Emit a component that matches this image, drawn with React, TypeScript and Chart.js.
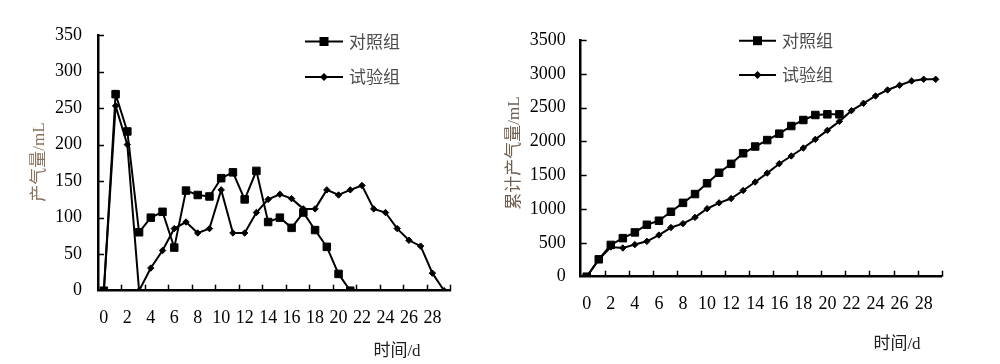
import React, { useEffect, useRef } from 'react';
import { Chart, registerables } from 'chart.js';

Chart.register(...registerables);

const dayLabels = ['0','1','2','3','4','5','6','7','8','9','10','11','12','13','14','15','16','17','18','19','20','21','22','23','24','25','26','27','28','29'];
const seriesNames = ['对照组', '试验组'];
const dailyControl = [0,269,218,80,100,108,59,137,131,129,154,162,125,164,94,100,86,107,83,60,23,0];
const dailyTrial = [0,253,200,0,31,55,85,94,79,85,138,79,79,107,125,132,126,112,112,138,131,138,144,112,107,85,69,61,24,0];
const cumControl = [0,257,470,570,655,768,828,960,1092,1222,1382,1537,1669,1825,1925,2020,2115,2228,2317,2391,2401,2401];
const cumTrial = [0,253,440,425,475,523,616,727,785,877,1005,1092,1156,1275,1400,1532,1671,1785,1903,2031,2164,2297,2455,2564,2672,2761,2830,2894,2919,2919];
const dailyMax = 350;
const dailyStep = 50;
const cumMax = 3500;
const cumStep = 500;
const yTitleDaily = '产气量/mL';
const yTitleCum = '累计产气量/mL';
const xTitle = '时间/d';

const SERIF = "'Liberation Serif', 'Times New Roman', 'Noto Sans CJK SC', serif";

const extrasPlugin = {
  id: 'extras',
  afterDraw(chart: any, _args: any, opts: any) {
    const { ctx, chartArea: a } = chart;
    const x = chart.scales.x;
    const y = chart.scales.y;
    ctx.save();
    ctx.strokeStyle = '#000';
    ctx.lineWidth = 1.5;
    // inward y ticks
    y.ticks.forEach((t: any) => {
      if (t.value === 0) return;
      const py = Math.round(y.getPixelForValue(t.value)) + 0.5;
      ctx.beginPath();
      ctx.moveTo(a.left, py);
      ctx.lineTo(a.left + 6, py);
      ctx.stroke();
    });
    // inward x ticks every 2 categories
    const c0 = x.getPixelForValue(0);
    const catW = x.getPixelForValue(1) - c0;
    for (let k = 2; k <= dayLabels.length; k += 2) {
      const px = Math.round(c0 - catW / 2 + k * catW) + 0.5;
      ctx.beginPath();
      ctx.moveTo(px, a.bottom);
      ctx.lineTo(px, a.bottom - 6);
      ctx.stroke();
    }
    // legend
    const lg = opts.legend;
    chart.data.datasets.forEach((ds: any, i: number) => {
      const ly = lg.ys[i];
      ctx.strokeStyle = '#000';
      ctx.lineWidth = 2;
      ctx.beginPath();
      ctx.moveTo(lg.x1, ly);
      ctx.lineTo(lg.x2, ly);
      ctx.stroke();
      const cx = (lg.x1 + lg.x2) / 2;
      ctx.fillStyle = '#000';
      if (ds.pointStyle === 'rect') {
        ctx.fillRect(cx - 4.5, ly - 4.5, 9, 9);
      } else {
        ctx.beginPath();
        ctx.moveTo(cx - 4, ly);
        ctx.lineTo(cx, ly - 4);
        ctx.lineTo(cx + 4, ly);
        ctx.lineTo(cx, ly + 4);
        ctx.closePath();
        ctx.fill();
      }
      ctx.fillStyle = '#4d4d4d';
      ctx.font = "17px 'Noto Sans CJK SC', sans-serif";
      ctx.textAlign = 'left';
      ctx.textBaseline = 'middle';
      ctx.fillText(ds.label, lg.textX, ly);
    });
    // y title (rotated)
    ctx.save();
    ctx.translate(opts.yTitle.x, opts.yTitle.y);
    ctx.rotate(-Math.PI / 2);
    ctx.fillStyle = opts.yTitle.color;
    ctx.font = '17px ' + SERIF;
    ctx.textAlign = 'center';
    ctx.textBaseline = 'middle';
    ctx.fillText(opts.yTitle.text, 0, 0);
    ctx.restore();
    // x title
    ctx.fillStyle = '#222';
    ctx.font = '17px ' + SERIF;
    ctx.textAlign = 'center';
    ctx.textBaseline = 'middle';
    ctx.fillText(opts.xTitle.text, opts.xTitle.x, opts.xTitle.y);
    ctx.restore();
  },
};

function buildConfig(p: any) {
  return {
    type: 'line',
    data: {
      labels: dayLabels,
      datasets: [
        {
          label: seriesNames[0],
          data: p.control,
          borderColor: '#000',
          backgroundColor: '#000',
          borderWidth: 2,
          pointStyle: 'rect',
          pointRadius: 5.3,
          pointBorderWidth: 1,
          tension: 0,
        },
        {
          label: seriesNames[1],
          data: p.trial,
          borderColor: '#000',
          backgroundColor: '#000',
          borderWidth: 2,
          pointStyle: 'rectRot',
          pointRadius: 3.2,
          pointBorderWidth: 1,
          tension: 0,
        },
      ],
    },
    options: {
      responsive: false,
      animation: false,
      layout: { padding: p.padding },
      plugins: {
        legend: { display: false },
        tooltip: { enabled: false },
        extras: p.extras,
      },
      scales: {
        x: {
          type: 'category',
          offset: true,
          grid: { display: true, drawOnChartArea: false, drawTicks: false, offset: true },
          border: { display: true, color: '#000', width: 2.5 },
          ticks: {
            autoSkip: false,
            maxRotation: 0,
            minRotation: 0,
            padding: 17,
            color: '#000',
            font: { family: SERIF, size: 18 },
            callback: (_v: any, i: number) => (i % 2 === 0 ? dayLabels[i] : ''),
          },
          afterFit: (s: any) => { s.height = p.xHeight; },
        },
        y: {
          min: 0,
          max: p.max,
          grid: { display: true, drawOnChartArea: false, drawTicks: false },
          border: { display: true, color: '#000', width: 2.5 },
          ticks: {
            stepSize: p.step,
            padding: p.yPad,
            color: '#000',
            font: { family: SERIF, size: 18 },
            callback: (v: any) => String(v),
          },
          afterFit: (s: any) => { s.width = p.yWidth; },
        },
      },
    },
    plugins: [extrasPlugin],
  } as any;
}

function ChartCanvas(props: { cfg: any; left: number }) {
  const ref = useRef<HTMLCanvasElement | null>(null);
  useEffect(() => {
    if (!ref.current) return;
    const chart = new Chart(ref.current, props.cfg);
    return () => chart.destroy();
  }, []);
  return (
    <canvas
      ref={ref}
      width={500}
      height={364}
      style={{ position: 'absolute', left: props.left, top: 0, width: 500, height: 364 }}
    />
  );
}

export default function App() {
  const leftCfg = buildConfig({
    control: dailyControl,
    trial: dailyTrial,
    max: dailyMax,
    step: dailyStep,
    padding: { left: 0, right: 50, top: 35, bottom: 0 },
    yWidth: 98,
    xHeight: 73.3,
    yPad: 16,
    extras: {
      legend: { x1: 305, x2: 343, ys: [41.5, 77], textX: 349 },
      yTitle: { text: yTitleDaily, x: 40, y: 162, color: '#8a735e' },
      xTitle: { text: xTitle, x: 397, y: 352 },
    },
  });
  const rightCfg = buildConfig({
    control: cumControl,
    trial: cumTrial,
    max: cumMax,
    step: cumStep,
    padding: { left: 0, right: 58.3, top: 40, bottom: 0 },
    yWidth: 80.7,
    xHeight: 87.3,
    yPad: 15,
    extras: {
      legend: { x1: 239, x2: 276, ys: [40.7, 75], textX: 282 },
      yTitle: { text: yTitleCum, x: 15, y: 153, color: '#6e5e50' },
      xTitle: { text: xTitle, x: 397, y: 345 },
    },
  });
  return (
    <div style={{ position: 'fixed', left: 0, top: 0, width: 1000, height: 364, background: '#fff' }}>
      <ChartCanvas cfg={leftCfg} left={0} />
      <ChartCanvas cfg={rightCfg} left={500} />
    </div>
  );
}
